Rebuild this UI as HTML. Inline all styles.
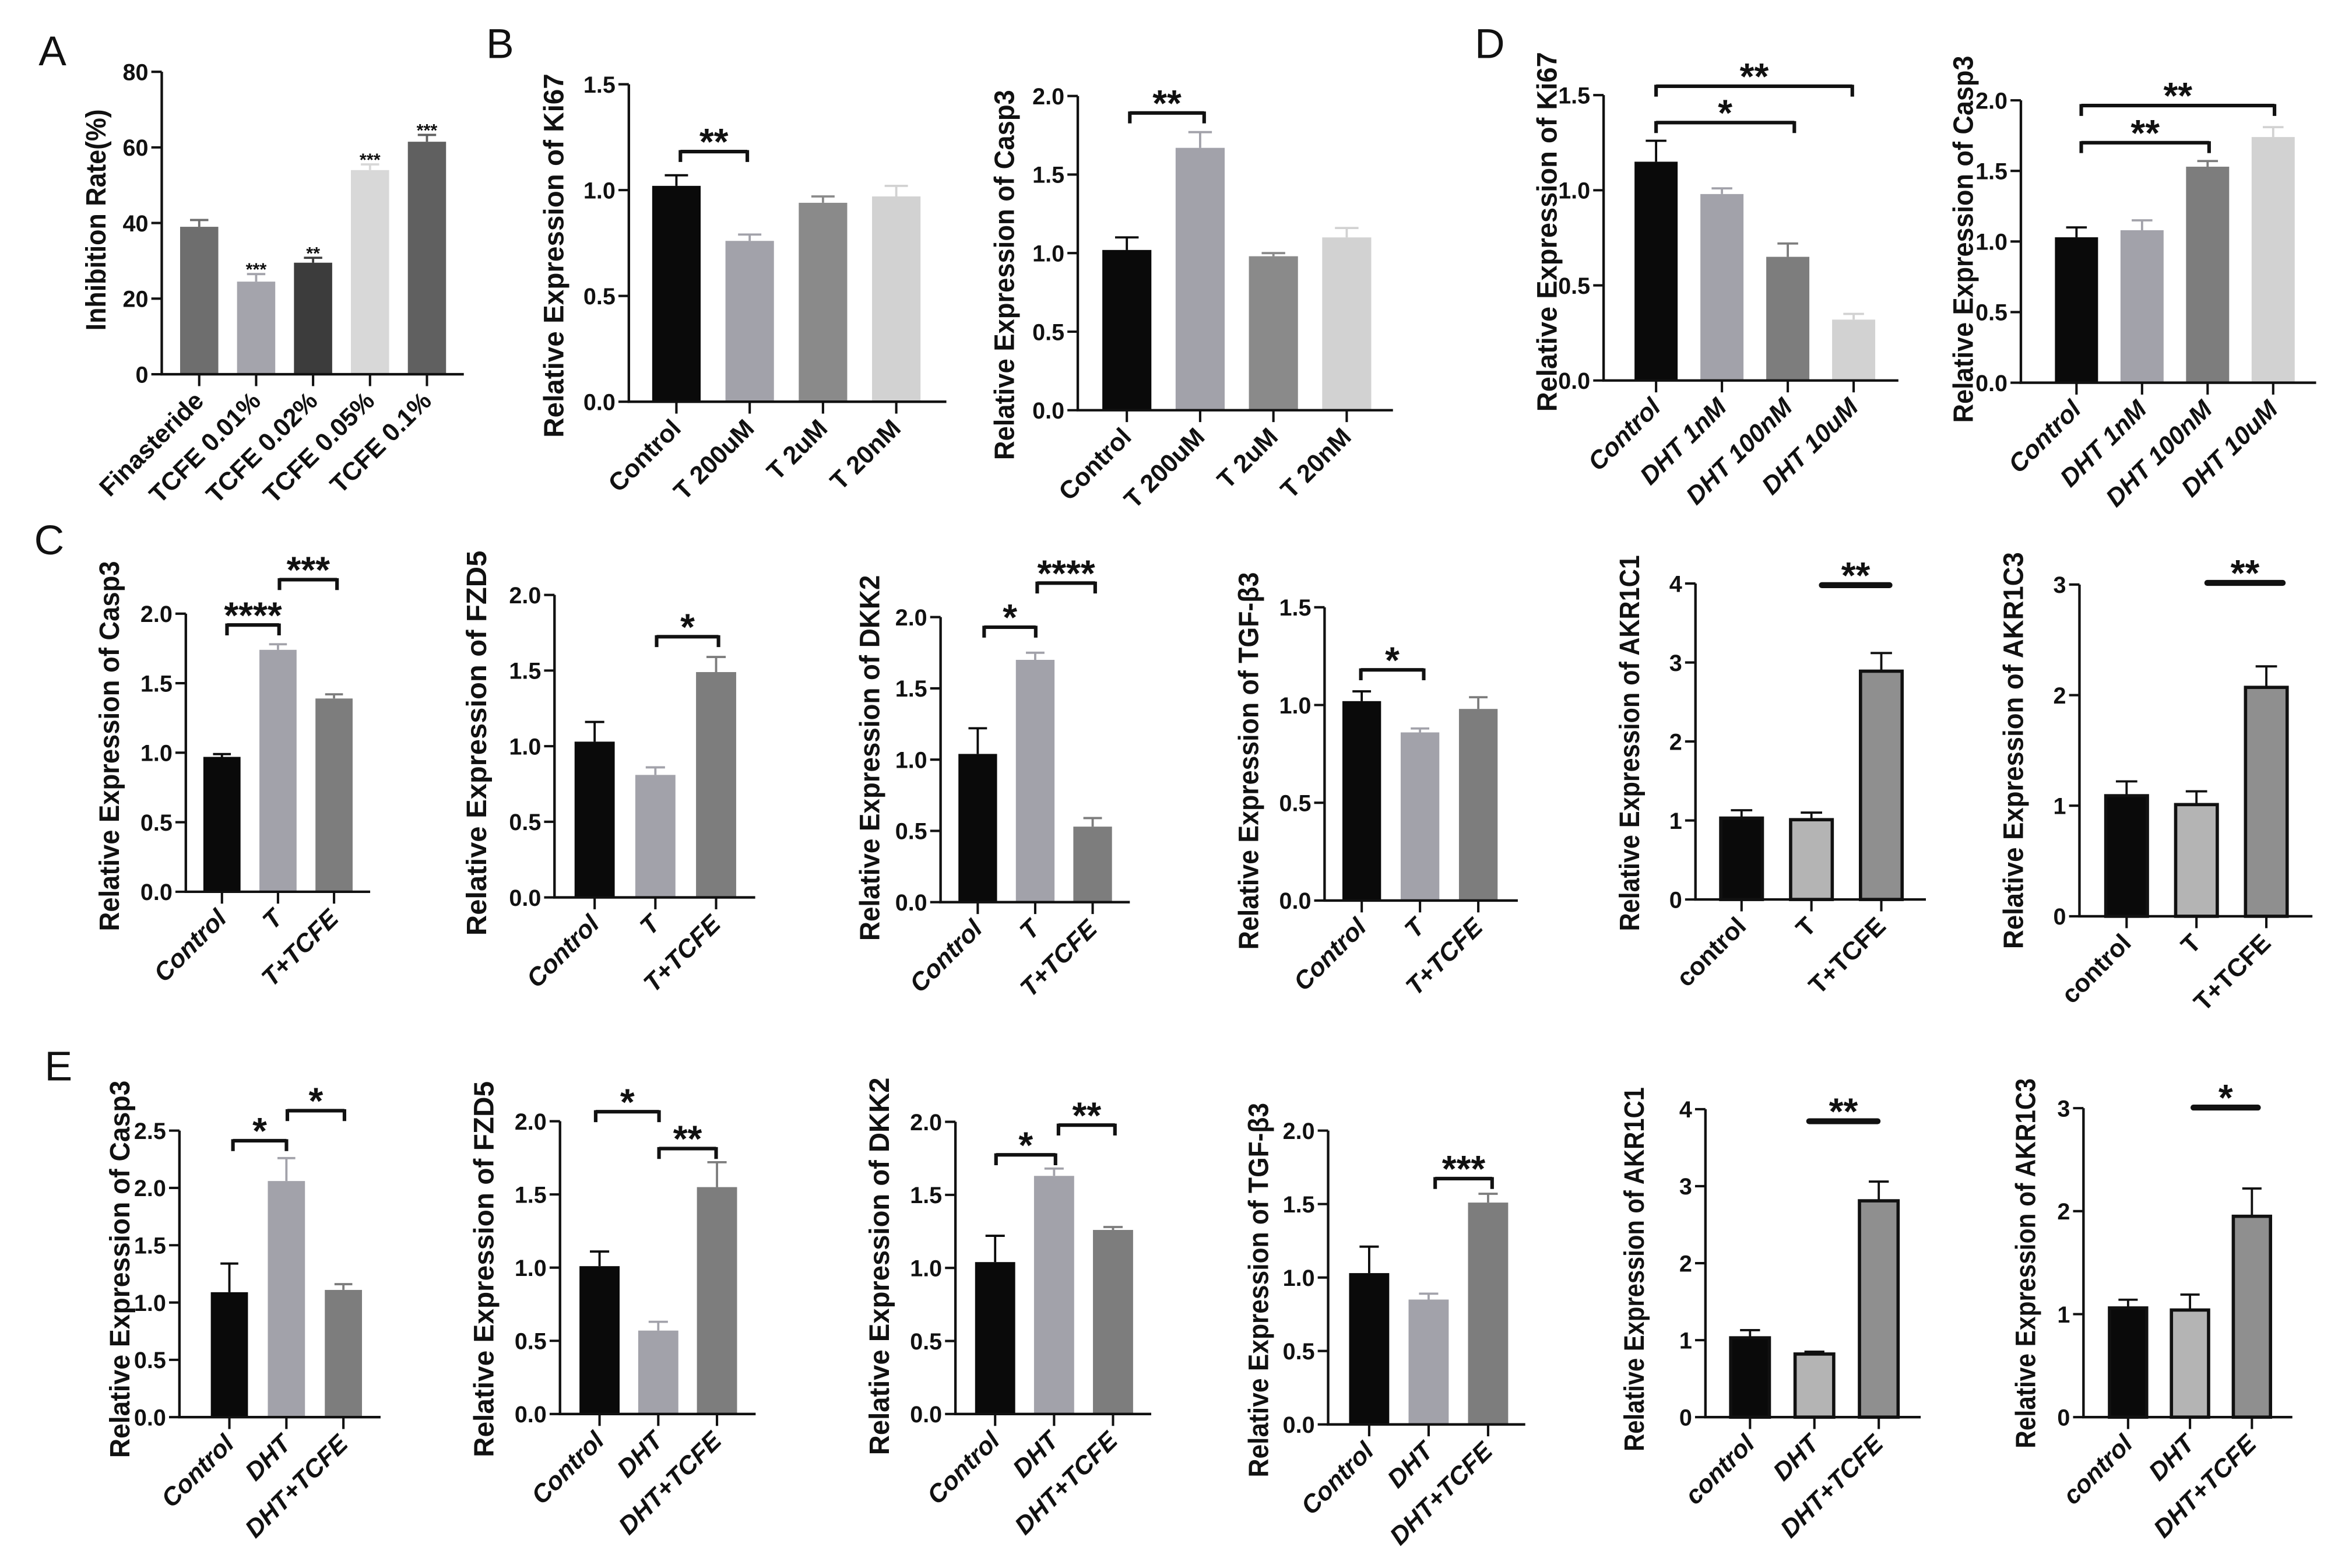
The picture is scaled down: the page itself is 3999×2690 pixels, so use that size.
<!DOCTYPE html>
<html><head><meta charset="utf-8"><style>
html,body{margin:0;padding:0;background:#fff;}
svg{display:block;}
text{font-family:"Liberation Sans",Arial,sans-serif;fill:#111;}
</style></head><body>
<svg id="fig" width="3999" height="2690" viewBox="0 0 1568 1055" preserveAspectRatio="none" xmlns="http://www.w3.org/2000/svg"></svg>
<script>
// ---- data arrays ----
const catsA=["Finasteride","TCFE 0.01%","TCFE 0.02%","TCFE 0.05%","TCFE 0.1%"];
const valsA=[39,24.5,29.5,54,61.5];
const errsA=[1.8,2,1.3,1.5,1.8];
const starsA=["","***","**","***","***"];
const ticksA=[0,20,40,60,80];

const catsBK=["Control","T 200uM","T 2uM","T 20nM"];
const valsBK=[1.02,0.76,0.94,0.97];
const errsBK=[0.05,0.03,0.03,0.05];
const ticksBK=[0,0.5,1.0,1.5];
const catsBC=["Control","T 200uM","T 2uM","T 20nM"];
const valsBC=[1.02,1.67,0.98,1.10];
const errsBC=[0.08,0.10,0.02,0.06];
const ticksBC=[0,0.5,1.0,1.5,2.0];

const catsDK=["Control","DHT 1nM","DHT 100nM","DHT 10uM"];
const valsDK=[1.15,0.98,0.65,0.32];
const errsDK=[0.11,0.03,0.07,0.03];
const ticksDK=[0,0.5,1.0,1.5];
const catsDC=["Control","DHT 1nM","DHT 100nM","DHT 10uM"];
const valsDC=[1.03,1.08,1.53,1.74];
const errsDC=[0.07,0.07,0.04,0.07];
const ticksDC=[0,0.5,1.0,1.5,2.0];

const catsT=["Control","T","T+TCFE"];
const catsTl=["control","T","T+TCFE"];
const catsD=["Control","DHT","DHT+TCFE"];
const catsDl=["control","DHT","DHT+TCFE"];
const valsC1=[0.97,1.74,1.39], errsC1=[0.02,0.04,0.03];
const valsC2=[1.03,0.81,1.49], errsC2=[0.13,0.05,0.10];
const valsC3=[1.04,1.70,0.53], errsC3=[0.18,0.05,0.06];
const valsC4=[1.02,0.86,0.98], errsC4=[0.05,0.02,0.06];
const valsC5=[1.03,1.01,2.89], errsC5=[0.10,0.09,0.23];
const valsC6=[1.09,1.01,2.07], errsC6=[0.13,0.12,0.19];
const valsE1=[1.09,2.06,1.11], errsE1=[0.25,0.20,0.05];
const valsE2=[1.01,0.57,1.55], errsE2=[0.10,0.06,0.17];
const valsE3=[1.04,1.63,1.26], errsE3=[0.18,0.05,0.02];
const valsE4=[1.03,0.85,1.51], errsE4=[0.18,0.04,0.06];
const valsE5=[1.03,0.82,2.81], errsE5=[0.10,0.03,0.25];
const valsE6=[1.06,1.04,1.95], errsE6=[0.08,0.15,0.27];
const t20=[0,0.5,1.0,1.5,2.0], t15=[0,0.5,1.0,1.5], t25=[0,0.5,1.0,1.5,2.0,2.5], t4=[0,1,2,3,4], t3=[0,1,2,3];

// ---- rendering ----
const svg=document.getElementById('fig');
const NS="http://www.w3.org/2000/svg";
function el(tag,attrs,parent){const e=document.createElementNS(NS,tag);for(const k in attrs)e.setAttribute(k,attrs[k]);(parent||svg).appendChild(e);return e;}
function fmt(v,dec){return dec?v.toFixed(1):String(v);}

function panel(p){
  const g=el('g',{});
  
  
  const ymax=p.ticks[p.ticks.length-1];
  const yS=v=>p.y0-(v/ymax)*(p.y0-p.yTop);
  const xS=i=>p.x0+p.first+i*p.step;
  p.vals.forEach((v,i)=>{
    const cx=xS(i);
    const r=el('rect',{x:cx-p.bw/2+(p.outline?1:0),y:yS(v),width:p.bw-(p.outline?2:0),height:p.y0-yS(v),fill:p.colors[i],stroke:p.outline?'#111':'none','stroke-width':p.outline?2.2:0},g);
    
    
    const top=yS(v+p.errs[i]);
    const eb=el('path',{d:`M${cx} ${yS(v)} V${top} M${cx-p.bw*0.24} ${top} H${cx+p.bw*0.24}`,stroke:p.outline?'#111':p.colors[i],'stroke-width':1.5,fill:'none'},g);
    
    
    if(p.stars&&p.stars[i]){
      const s=el('text',{x:cx,y:top+1,'text-anchor':'middle','font-size':12,'font-weight':'bold'},g);
      s.textContent=p.stars[i];
      
      
    }
  });
  const ax=el('path',{d:`M${p.x0} ${p.yTop} V${p.y0} H${p.xEnd}`,stroke:'#111','stroke-width':1.7,fill:'none'},g);
  
  
  p.ticks.forEach(t=>{
    el('line',{x1:p.x0-7,x2:p.x0,y1:yS(t),y2:yS(t),stroke:'#111','stroke-width':1.6},g);
    const tl=el('text',{x:p.x0-9,y:yS(t)+5.6,'text-anchor':'end','font-size':15.5,'font-weight':'bold'},g);
    tl.textContent=fmt(t,p.dec);
    
    
  });
  p.cats.forEach((c,i)=>{
    const cx=xS(i);
    el('line',{x1:cx,x2:cx,y1:p.y0,y2:p.y0+8,stroke:'#111','stroke-width':1.6},g);
    const lx=cx+4, ly=p.y0+19;
    const xl=el('text',{x:lx,y:ly,'text-anchor':'end','font-size':p.xfs||17,'font-weight':'bold','font-style':p.italic?'italic':'normal',transform:`rotate(-45 ${lx} ${ly})`},g);
    xl.textContent=c;
    
    
  });
  const yl=el('text',{x:0,y:0,'text-anchor':'middle','font-size':19,'font-weight':'bold',textLength:p.ylen,lengthAdjust:'spacingAndGlyphs',transform:`translate(${p.ylc+7} ${p.ylmid}) rotate(-90)`},g);
  yl.textContent=p.ylabel;
  
  
  (p.sig||[]).forEach(s=>{
    const x1=s.a, x2=s.b, y=s.y;
    const d=s.line?`M${x1} ${y} H${x2}`:`M${x1} ${y+7} V${y-1} M${x1} ${y} H${x2} M${x2} ${y+7} V${y-1}`;
    const br=el('path',{d,stroke:'#111','stroke-width':s.line?4:2.4,fill:'none','stroke-linecap':s.line?'round':'butt'},g);
    
    
    const st=el('text',{x:(x1+x2)/2,y:y+2,'text-anchor':'middle','font-size':25,'font-weight':'bold'},g);
    st.textContent=s.t;
    
    
  });
}
function letter(t,x,y){const l=el('text',{x,y,'font-size':28});l.textContent=t;}

const c3=['#0a0a0a','#a2a2aa','#7d7d7d'];
const cA=['#0a0a0a','#b4b4b4','#8f8f8f'];
letter('A',26,44);letter('B',327,39);letter('D',992,39);letter('C',23,373);letter('E',30,727);

panel({name:'panel-a-inhibition',cats:catsA,vals:valsA,errs:errsA,stars:starsA,ticks:ticksA,x0:108.8,xEnd:312,y0:251.8,yTop:48.3,first:25.2,step:38.3,bw:25.7,colors:['#6e6e6e','#a4a4ac','#3c3c3c','#d8d8d8','#606060'],ylabel:'Inhibition Rate(%)',ylc:64,ylmid:148,ylen:149,dec:false});

panel({name:'panel-b-ki67',cats:catsBK,vals:valsBK,errs:errsBK,ticks:ticksBK,x0:423,xEnd:636.6,y0:270.3,yTop:56.7,first:32,step:49.3,bw:32.6,colors:['#0a0a0a','#a2a2aa','#8a8a8a','#d2d2d2'],ylabel:'Relative Expression of Ki67',ylc:372,ylmid:172,ylen:245,dec:true,sig:[{a:457.7,b:502.7,y:102,t:'**'}]});
panel({name:'panel-b-casp3',cats:catsBC,vals:valsBC,errs:errsBC,ticks:ticksBC,x0:725,xEnd:937,y0:276,yTop:64.6,first:33,step:49.3,bw:33,colors:['#0a0a0a','#a2a2aa','#8a8a8a','#d2d2d2'],ylabel:'Relative Expression of Casp3',ylc:675,ylmid:185,ylen:249,dec:true,sig:[{a:760,b:810,y:76,t:'**'}]});

panel({name:'panel-d-ki67',cats:catsDK,vals:valsDK,errs:errsDK,ticks:ticksDK,x0:1078.7,xEnd:1277,y0:256,yTop:64,first:35.3,step:44.3,bw:29,colors:['#0a0a0a','#a2a2aa','#7d7d7d','#d2d2d2'],italic:true,ylabel:'Relative Expression of  Ki67',ylc:1040,ylmid:156,ylen:242,dec:true,sig:[{a:1114,b:1207,y:82.5,t:'*'},{a:1114,b:1246,y:58,t:'**'}]});
panel({name:'panel-d-casp3',cats:catsDC,vals:valsDC,errs:errsDC,ticks:ticksDC,x0:1359.4,xEnd:1558,y0:257.5,yTop:67.5,first:37.4,step:44.1,bw:29,colors:['#0a0a0a','#a2a2aa','#7d7d7d','#d2d2d2'],italic:true,ylabel:'Relative Expression of Casp3',ylc:1320,ylmid:161,ylen:247,dec:true,sig:[{a:1400,b:1486,y:96,t:'**'},{a:1400,b:1530,y:71,t:'**'}]});

panel({name:'panel-c-casp3',cats:catsT,vals:valsC1,errs:errsC1,ticks:t20,x0:125,xEnd:249,y0:600,yTop:412.9,first:24.3,step:37.7,bw:25,colors:c3,italic:true,ylabel:'Relative Expression of Casp3',ylc:73,ylmid:502,ylen:249,dec:true,sig:[{a:152.7,b:187.7,y:420.5,t:'****'},{a:188,b:226.7,y:390,t:'***'}]});
panel({name:'panel-c-fzd5',cats:catsT,vals:valsC2,errs:errsC2,ticks:t20,x0:373,xEnd:508,y0:603.8,yTop:400.3,first:27,step:40.85,bw:27,colors:c3,italic:true,ylabel:'Relative Expression of FZD5',ylc:320,ylmid:500,ylen:259,dec:true,sig:[{a:441.7,b:483.3,y:428.4,t:'*'}]});
panel({name:'panel-c-dkk2',cats:catsT,vals:valsC3,errs:errsC3,ticks:t20,x0:632.7,xEnd:760,y0:607,yTop:415.2,first:25,step:38.65,bw:26,colors:c3,italic:true,ylabel:'Relative Expression of DKK2',ylc:584.4,ylmid:510,ylen:246,dec:true,sig:[{a:662,b:696.7,y:422,t:'*'},{a:697.7,b:736.7,y:392.3,t:'****'}]});
panel({name:'panel-c-tgfb3',cats:catsT,vals:valsC4,errs:errsC4,ticks:t15,x0:891,xEnd:1021,y0:605.9,yTop:408.6,first:25,step:39.2,bw:26,colors:c3,italic:true,ylabel:'Relative Expression of TGF-β3',ylc:839.4,ylmid:512,ylen:254,dec:true,sig:[{a:915.4,b:957.7,y:450.7,t:'*'}]});
panel({name:'panel-c-akr1c1',cats:catsTl,vals:valsC5,errs:errsC5,ticks:t4,x0:1140.5,xEnd:1295.5,y0:605.2,yTop:392.6,first:31,step:47,bw:30,colors:cA,outline:true,ylabel:'Relative Expression of AKR1C1',ylc:1095.5,ylmid:500,ylen:253,dec:false,sig:[{a:1225.5,b:1271,y:393.7,t:'**',line:true}]});
panel({name:'panel-c-akr1c3',cats:catsTl,vals:valsC6,errs:errsC6,ticks:t3,x0:1398.8,xEnd:1555.5,y0:616.5,yTop:393.3,first:31.7,step:47,bw:30,colors:cA,outline:true,ylabel:'Relative Expression of AKR1C3',ylc:1353.8,ylmid:505,ylen:267,dec:false,sig:[{a:1484.8,b:1535.5,y:392.2,t:'**',line:true}]});

panel({name:'panel-e-casp3',cats:catsD,vals:valsE1,errs:errsE1,ticks:t25,x0:120.7,xEnd:256,y0:953.5,yTop:760.7,first:33.6,step:38.35,bw:25,colors:c3,italic:true,ylabel:'Relative Expression of Casp3',ylc:80,ylmid:854,ylen:254,dec:true,sig:[{a:156.7,b:192.7,y:767.5,t:'*'},{a:193.3,b:231.7,y:747.3,t:'*'}]});
panel({name:'panel-e-fzd5',cats:catsD,vals:valsE2,errs:errsE2,ticks:t20,x0:376.7,xEnd:508.3,y0:951.4,yTop:754.4,first:26.6,step:39.5,bw:27,colors:c3,italic:true,ylabel:'Relative Expression of FZD5',ylc:325,ylmid:854,ylen:253,dec:true,sig:[{a:400.7,b:443.3,y:748,t:'*'},{a:443.3,b:481.7,y:772.8,t:'**'}]});
panel({name:'panel-e-dkk2',cats:catsD,vals:valsE3,errs:errsE3,ticks:t20,x0:642.7,xEnd:774.4,y0:951.4,yTop:754.8,first:26.7,step:39.65,bw:27,colors:c3,italic:true,ylabel:'Relative Expression of DKK2',ylc:591,ylmid:852,ylen:254,dec:true,sig:[{a:670,b:710,y:777,t:'*'},{a:712,b:750,y:757,t:'**'}]});
panel({name:'panel-e-tgfb3',cats:catsD,vals:valsE4,errs:errsE4,ticks:t20,x0:893.4,xEnd:1026,y0:958.4,yTop:760.7,first:27.6,step:40,bw:27,colors:c3,italic:true,ylabel:'Relative Expression of TGF-β3',ylc:846,ylmid:868,ylen:252,dec:true,sig:[{a:965.4,b:1003.7,y:793,t:'***'}]});
panel({name:'panel-e-akr1c1',cats:catsDl,vals:valsE5,errs:errsE5,ticks:t4,x0:1147.2,xEnd:1292,y0:953.5,yTop:746.3,first:30,step:43.3,bw:28,colors:cA,outline:true,italic:true,ylabel:'Relative Expression of AKR1C1',ylc:1098.8,ylmid:854,ylen:245,dec:false,sig:[{a:1217,b:1263,y:754.4,t:'**',line:true}]});
panel({name:'panel-e-akr1c3',cats:catsDl,vals:valsE6,errs:errsE6,ticks:t3,x0:1401.5,xEnd:1542,y0:953.5,yTop:745.6,first:30,step:41.65,bw:27,colors:cA,outline:true,italic:true,ylabel:'Relative Expression of AKR1C3',ylc:1362,ylmid:850,ylen:249,dec:false,sig:[{a:1475.5,b:1518.8,y:745.2,t:'*',line:true}]});
</script>
</body></html>
